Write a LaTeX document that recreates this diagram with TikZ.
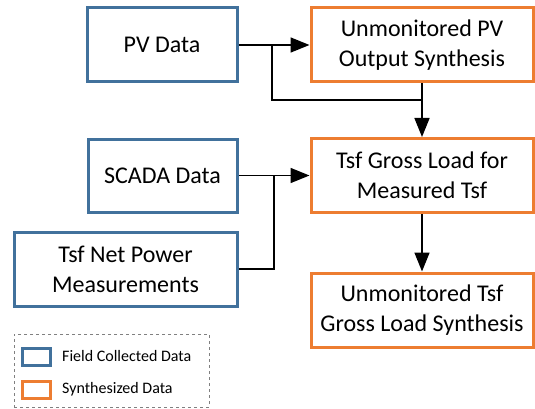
\documentclass[tikz,border=0pt]{standalone}
\usepackage{fontspec}
\setmainfont{Carlito}
\usepackage{tikz}
\usetikzlibrary{arrows.meta}
\definecolor{fieldblue}{HTML}{41719C}
\definecolor{synorange}{HTML}{ED7D31}

\begin{document}
\begin{tikzpicture}[x=1pt, y=-1pt,
  box/.style={line width=3pt, fill=white, align=center, inner sep=0pt, font=\fontsize{24}{30}\selectfont},
  field/.style={box, draw=fieldblue},
  synth/.style={box, draw=synorange},
  flow/.style={-{Triangle[length=19pt,width=15pt]}, line width=1.6pt},
  link/.style={line width=1.6pt},
  keybox/.style={line width=3pt, minimum width=28, minimum height=17, inner sep=0pt},
  keytext/.style={anchor=west, inner sep=0pt, font=\fontsize{16}{19}\selectfont}]
\useasboundingbox (0,0) rectangle (535,409);

\node [field, minimum width=150, minimum height=74] (pv) at (162,45) {PV Data};
\node [synth, minimum width=222, minimum height=74] (upv) at (422,45) {Unmonitored PV\\Output Synthesis};
\node [field, minimum width=149, minimum height=73] (scada) at (162.5,175.5) {SCADA Data};
\node [synth, minimum width=222, minimum height=74] (gross) at (422,175.5) {Tsf Gross Load for\\Measured Tsf};
\node [field, minimum width=223, minimum height=74] (net) at (125.5,269) {Tsf Net Power\\Measurements};
\node [synth, minimum width=222, minimum height=74] (ugross) at (422,310) {Unmonitored Tsf\\Gross Load Synthesis};

\coordinate (split) at (272,45);
\coordinate (merge) at (422,100);
\coordinate (join) at (274,175.5);

\draw [flow] (pv) -- (upv);
\draw [link] (split) |- (merge);
\draw [flow] (upv) -- (gross);
\draw [flow] (scada) -- (gross);
\draw [link] (net) -| (join);
\draw [flow] (gross) -- (ugross);

% legend
\node [draw=gray, dashed, line width=0.8pt, minimum width=195, minimum height=73, inner sep=0pt] (legend) at (111.5,370.5) {};
\node [keybox, draw=fieldblue] (keyfield) at (36.5,356.5) {};
\node [keybox, draw=synorange] (keysynth) at (36.5,389.5) {};
\node [keytext] (fieldtext) at (62,356.5) {Field Collected Data};
\node [keytext] (synthtext) at (62,389.5) {Synthesized Data};
\end{tikzpicture}
\end{document}
